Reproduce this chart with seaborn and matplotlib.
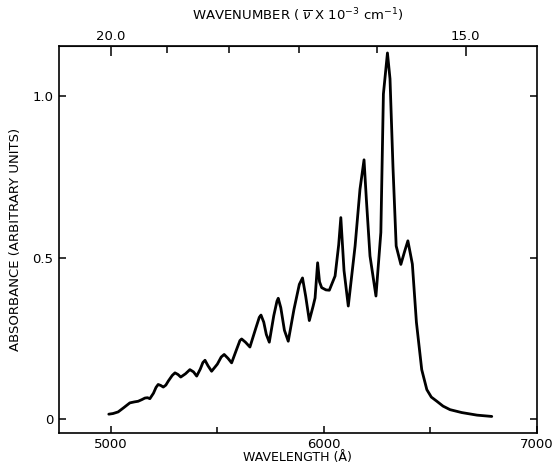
import numpy as np
import pandas as pd
import matplotlib
matplotlib.use("Agg")
import matplotlib.pyplot as plt
import seaborn as sns

# wavelength (Angstrom) and absorbance
wavelength = [4990, 5010, 5034, 5060, 5089, 5110, 5128, 5145, 5160, 5172, 5183, 5200,
              5212, 5222, 5234, 5246, 5258, 5270, 5288, 5301, 5315, 5328, 5350, 5371,
              5388, 5403, 5420, 5432, 5442, 5456, 5473, 5500, 5518, 5532, 5550, 5567,
              5590, 5606, 5614, 5632, 5653, 5680, 5697, 5705, 5718, 5730, 5744, 5765,
              5780, 5786, 5798, 5815, 5833, 5860, 5885, 5900, 5915, 5932, 5950, 5959,
              5971, 5980, 5990, 6010, 6026, 6053, 6070, 6080, 6095, 6115, 6147, 6170,
              6189, 6200, 6217, 6245, 6268, 6280, 6299, 6311, 6325, 6340, 6362, 6380,
              6395, 6416, 6435, 6460, 6484, 6505, 6531, 6560, 6593, 6648, 6720, 6789]
absorbance = [0.015, 0.017, 0.022, 0.035, 0.050, 0.053, 0.055, 0.060, 0.065, 0.066, 0.063, 0.080,
              0.098, 0.107, 0.104, 0.099, 0.105, 0.118, 0.135, 0.143, 0.138, 0.130, 0.140, 0.153,
              0.146, 0.133, 0.155, 0.175, 0.182, 0.165, 0.148, 0.170, 0.192, 0.200, 0.188, 0.174,
              0.215, 0.243, 0.248, 0.238, 0.223, 0.280, 0.315, 0.322, 0.300, 0.262, 0.238, 0.320,
              0.365, 0.374, 0.345, 0.275, 0.241, 0.340, 0.417, 0.437, 0.380, 0.305, 0.350, 0.375,
              0.484, 0.425, 0.407, 0.400, 0.399, 0.443, 0.540, 0.624, 0.460, 0.350, 0.536, 0.712,
              0.803, 0.680, 0.505, 0.381, 0.578, 1.007, 1.134, 1.054, 0.780, 0.536, 0.479, 0.520,
              0.552, 0.480, 0.300, 0.153, 0.091, 0.068, 0.055, 0.040, 0.029, 0.020, 0.012, 0.008]

x_major = [5000, 6000, 7000]
x_major_labels = ["5000", "6000", "7000"]
x_minor = [5500, 6500]
y_ticks = [0, 0.5, 1.0]
y_labels = ["0", "0.5", "1.0"]
top_major = [20.0, 15.0]
top_major_labels = ["20.0", "15.0"]
top_minor = [19.0, 18.0, 17.0, 16.0]

df = pd.DataFrame({"wavelength": wavelength, "absorbance": absorbance})

sns.set_style("ticks")
plt.rcParams["font.family"] = ["DejaVu Sans"]
plt.rcParams["text.color"] = "black"
plt.rcParams["axes.labelcolor"] = "black"
plt.rcParams["xtick.direction"] = "in"
plt.rcParams["ytick.direction"] = "in"

fig = plt.figure(figsize=(5.53, 4.68), dpi=100)
ax = fig.add_axes([0.107, 0.075, 0.8635, 0.827])

sns.lineplot(data=df, x="wavelength", y="absorbance", ax=ax,
             color="black", linewidth=2.0, sort=False)

ax.set_xlim(4757, 7000)
ax.set_ylim(-0.043, 1.156)

ax.set_xticks(x_major)
ax.set_xticklabels(x_major_labels)
ax.set_xticks(x_minor, minor=True)
ax.set_yticks(y_ticks)
ax.set_yticklabels(y_labels)

ax.tick_params(axis="both", which="both", direction="in", colors="black",
               labelsize=9.5, width=1.1)
ax.tick_params(axis="both", which="major", length=5)
ax.tick_params(axis="both", which="minor", length=4)
ax.tick_params(axis="y", right=True, labelright=False, pad=4)
ax.tick_params(axis="x", top=False, pad=4)

for s in ax.spines.values():
    s.set_linewidth(1.2)
    s.set_color("black")

ax.set_xlabel("WAVELENGTH (Å)", fontsize=9, labelpad=0, color="black")
ax.set_ylabel("ABSORBANCE (ARBITRARY UNITS)", fontsize=9.5, labelpad=8, color="black")

sec = ax.secondary_xaxis("top", functions=(lambda x: 1e5 / np.asarray(x, dtype=float),
                                           lambda w: 1e5 / np.asarray(w, dtype=float)))
sec.set_xticks(top_major)
sec.set_xticklabels(top_major_labels)
sec.set_xticks(top_minor, minor=True)
sec.tick_params(which="both", direction="in", labelsize=9.5, width=1.1, colors="black", pad=2)
sec.tick_params(which="major", length=7)
sec.tick_params(which="minor", length=5)
sec.set_xlabel(r"WAVENUMBER ( $\overline{\nu}$ X 10$^{-3}$ cm$^{-1}$)", fontsize=9.5,
               labelpad=7, color="black")

fig.savefig("out.png", dpi=100)
